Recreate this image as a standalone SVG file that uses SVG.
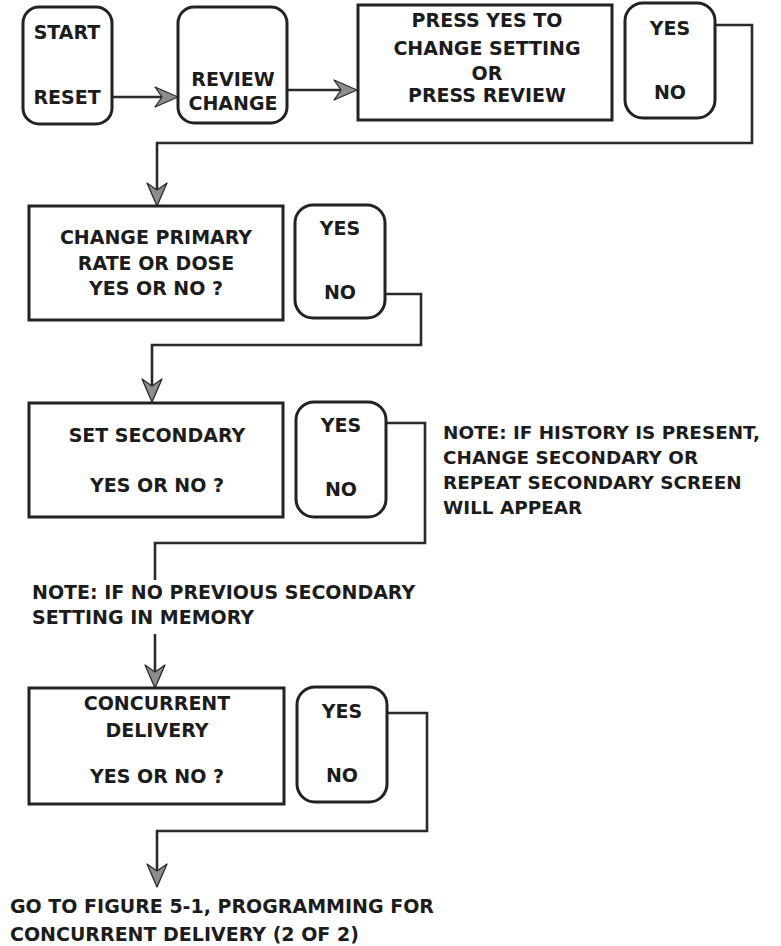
<svg xmlns="http://www.w3.org/2000/svg" width="781" height="946" viewBox="0 0 781 946">
<style>
.box{fill:#fff;stroke:#222;stroke-width:3}
.con{fill:none;stroke:#2a2a2a;stroke-width:2.6}
text{font-family:"DejaVu Sans","Liberation Sans",sans-serif;font-weight:bold;font-size:19px;fill:#1c1c1c}
.c{text-anchor:middle}
.n{font-size:18.4px}
</style>
<defs>
<marker id="ah" viewBox="-38 -12 40 24" refX="-14" refY="0" markerWidth="40" markerHeight="24" markerUnits="userSpaceOnUse" orient="auto">
<path d="M0,0 L-23,-10 L-16,0 L-23,10 Z" fill="#8c8c8c" stroke="#2a2a2a" stroke-width="1.3" stroke-linejoin="round"/>
</marker>
</defs>
<rect width="781" height="946" fill="#fff"/>
<g id="connectors">
<path class="con" d="M112,97 H164" marker-end="url(#ah)"/>
<path class="con" d="M287,90 H343" marker-end="url(#ah)"/>
<path class="con" d="M715,25 H752 V143 H157 V192" marker-end="url(#ah)"/>
<path class="con" d="M385,294 H421 V345 H152 V388" marker-end="url(#ah)"/>
<path class="con" d="M386,423 H425 V543 H155 V580"/>
<path class="con" d="M155,634 V674" marker-end="url(#ah)"/>
<path class="con" d="M387,713 H427 V831 H157 V873" marker-end="url(#ah)"/>
</g>
<g id="start">
<rect class="box" x="23" y="7" width="89" height="117" rx="16"/>
<text class="c" x="67" y="39">START</text>
<text class="c" x="67" y="104">RESET</text>
</g>
<g id="review">
<rect class="box" x="178" y="7" width="109" height="116" rx="16"/>
<text class="c" x="233" y="86">REVIEW</text>
<text class="c" x="233" y="110">CHANGE</text>
</g>
<g id="press">
<rect class="box" x="358" y="5" width="254" height="115"/>
<text class="c" x="487" y="27">PRESS YES TO</text>
<text class="c" x="487" y="55">CHANGE SETTING</text>
<text class="c" x="487" y="80">OR</text>
<text class="c" x="487" y="102">PRESS REVIEW</text>
</g>
<g id="yesno1">
<rect class="box" x="625" y="3" width="90" height="115" rx="18"/>
<text class="c" x="670" y="35">YES</text>
<text class="c" x="670" y="99">NO</text>
</g>
<g id="primary">
<rect class="box" x="29" y="206" width="254" height="114"/>
<text class="c" x="156" y="244">CHANGE PRIMARY</text>
<text class="c" x="156" y="270">RATE OR DOSE</text>
<text class="c" x="156" y="295">YES OR NO ?</text>
</g>
<g id="yesno2">
<rect class="box" x="295" y="205" width="90" height="113" rx="18"/>
<text class="c" x="340" y="235">YES</text>
<text class="c" x="340" y="299">NO</text>
</g>
<g id="secondary">
<rect class="box" x="29" y="403" width="254" height="114"/>
<text class="c" x="157" y="442">SET SECONDARY</text>
<text class="c" x="157" y="492">YES OR NO ?</text>
</g>
<g id="yesno3">
<rect class="box" x="296" y="402" width="90" height="115" rx="18"/>
<text class="c" x="341" y="432">YES</text>
<text class="c" x="341" y="496">NO</text>
</g>
<g id="note-history">
<text class="n" x="443" y="439">NOTE: IF HISTORY IS PRESENT,</text>
<text class="n" x="443" y="464">CHANGE SECONDARY OR</text>
<text class="n" x="443" y="489">REPEAT SECONDARY SCREEN</text>
<text class="n" x="443" y="514">WILL APPEAR</text>
</g>
<g id="note-previous">
<text x="32" y="599">NOTE: IF NO PREVIOUS SECONDARY</text>
<text x="32" y="624">SETTING IN MEMORY</text>
</g>
<g id="concurrent">
<rect class="box" x="29" y="688" width="255" height="116"/>
<text class="c" x="157" y="710">CONCURRENT</text>
<text class="c" x="157" y="737">DELIVERY</text>
<text class="c" x="157" y="783">YES OR NO ?</text>
</g>
<g id="yesno4">
<rect class="box" x="297" y="687" width="90" height="115" rx="18"/>
<text class="c" x="342" y="718">YES</text>
<text class="c" x="342" y="782">NO</text>
</g>
<g id="goto">
<text x="10" y="913">GO TO FIGURE 5-1, PROGRAMMING FOR</text>
<text x="10" y="941">CONCURRENT DELIVERY (2 OF 2)</text>
</g>
</svg>
